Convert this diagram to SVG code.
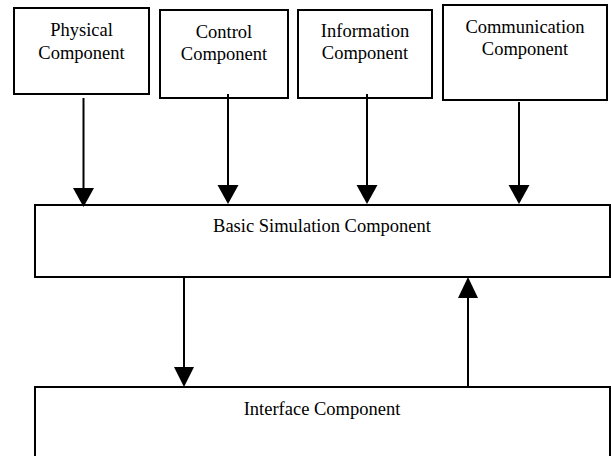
<svg xmlns="http://www.w3.org/2000/svg" width="611" height="456" viewBox="0 0 611 456">
<style>
.box{fill:#fff;stroke:#000;stroke-width:2}
.lbl{font-family:"Liberation Serif","Times New Roman",serif;font-size:18.5px;fill:#000;text-anchor:middle}
.line{stroke:#000;stroke-width:2;fill:none}
.head{fill:#000}
</style>
<rect width="611" height="456" fill="#fff"/>
<g id="physical">
<rect class="box" x="14" y="8" width="135" height="86"/>
<text class="lbl" x="81.5" y="36">Physical</text>
<text class="lbl" x="81.5" y="59">Component</text>
</g>
<g id="control">
<rect class="box" x="160" y="10" width="128" height="88"/>
<text class="lbl" x="224" y="38">Control</text>
<text class="lbl" x="224" y="60">Component</text>
</g>
<g id="information">
<rect class="box" x="298" y="10" width="134" height="88"/>
<text class="lbl" x="365" y="37">Information</text>
<text class="lbl" x="365" y="59">Component</text>
</g>
<g id="communication">
<rect class="box" x="443" y="5" width="164" height="95"/>
<text class="lbl" x="525" y="33">Communication</text>
<text class="lbl" x="525" y="55">Component</text>
</g>
<g id="basic">
<rect class="box" x="35" y="205" width="575" height="72"/>
<text class="lbl" x="322" y="232">Basic Simulation Component</text>
</g>
<g id="interface">
<rect class="box" x="35" y="387" width="575" height="80"/>
<text class="lbl" x="322" y="415">Interface Component</text>
</g>
<g id="connectors">
<line class="line" x1="83.5" y1="98" x2="83.5" y2="190"/>
<polygon class="head" points="73,188 94,188 83.5,207"/>
<line class="line" x1="228" y1="94" x2="228" y2="188"/>
<polygon class="head" points="217.5,185 238.5,185 228,204"/>
<line class="line" x1="367" y1="94" x2="367" y2="188"/>
<polygon class="head" points="356.5,185 377.5,185 367,204"/>
<line class="line" x1="519" y1="102" x2="519" y2="188"/>
<polygon class="head" points="508.5,185 529.5,185 519,204"/>
<line class="line" x1="184" y1="277" x2="184" y2="370"/>
<polygon class="head" points="174,367 194,367 184,387"/>
<line class="line" x1="468" y1="387" x2="468" y2="295"/>
<polygon class="head" points="458,298 478,298 468,277"/>
</g>
</svg>
